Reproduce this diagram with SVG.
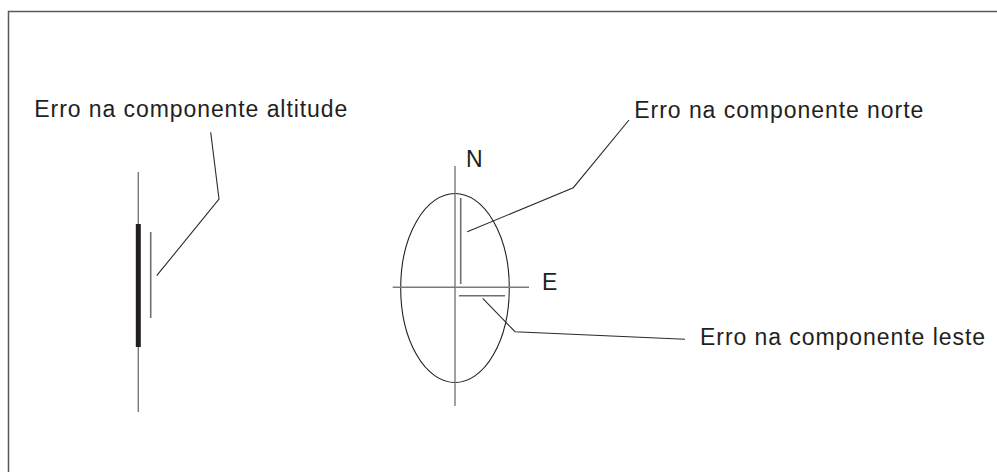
<svg xmlns="http://www.w3.org/2000/svg" width="997" height="472" viewBox="0 0 997 472">
<style>
.txt{font-family:"Liberation Sans",Arial,sans-serif;font-size:23px;fill:#231f20}
.axis{stroke:#7a7a7a;stroke-width:1.4;fill:none}
.err{stroke:#6e6e6e;stroke-width:1.6;fill:none}
.lead{stroke:#2a2a2a;stroke-width:1.1;fill:none}
</style>
<rect width="997" height="472" fill="#fff"/>
<path d="M8.5,472 V11.5 H997" fill="none" stroke="#5a5a5a" stroke-width="1.5"/>
<g id="altitude">
<line class="axis" x1="138.3" y1="172" x2="138.3" y2="412"/>
<line x1="138.3" y1="224" x2="138.3" y2="347" stroke="#231f20" stroke-width="5"/>
<line class="err" x1="150.7" y1="232" x2="150.7" y2="318"/>
</g>
<g id="ellipse">
<ellipse cx="455" cy="288" rx="54.3" ry="94.5" fill="none" stroke="#231f20" stroke-width="1.1"/>
<line class="axis" x1="455" y1="166" x2="455" y2="406"/>
<line class="axis" x1="392.7" y1="287.3" x2="529" y2="287.3"/>
<line class="err" x1="460.7" y1="198" x2="460.7" y2="284"/>
<line class="err" x1="459" y1="295.7" x2="505" y2="295.7"/>
<text class="txt" x="466" y="167">N</text>
<text class="txt" x="542" y="290">E</text>
</g>
<g id="labels">
<text class="txt" x="34.3" y="117" textLength="313" lengthAdjust="spacing">Erro na componente altitude</text>
<text class="txt" x="634.3" y="118" textLength="289" lengthAdjust="spacing">Erro na componente norte</text>
<text class="txt" x="700" y="345" textLength="285" lengthAdjust="spacing">Erro na componente leste</text>
</g>
<g id="connectors">
<polyline class="lead" points="156.7,275.7 219,199 210.7,132.3"/>
<polyline class="lead" points="467.3,231.7 573.3,187.7 629,120"/>
<polyline class="lead" points="482.7,298.3 515,331.7 685,339.3"/>
</g>
</svg>
